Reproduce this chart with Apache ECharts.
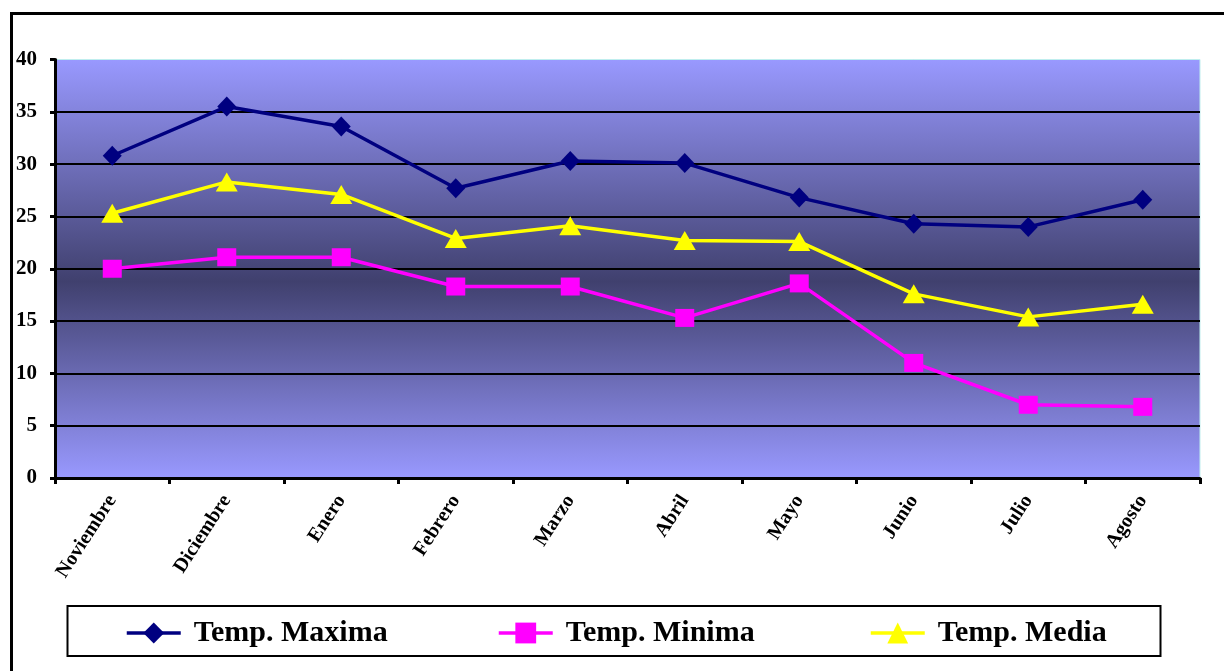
<!DOCTYPE html>
<html>
<head>
<meta charset="utf-8">
<script src="https://cdn.jsdelivr.net/npm/echarts@6/dist/echarts.min.js"></script>
<style>
  html, body { margin: 0; padding: 0; background: #ffffff; }
  #chart { width: 1224px; height: 671px; }
</style>
</head>
<body>
<div id="chart"></div>
<script>
// Monthly temperatures (°C)
const months = ['Noviembre', 'Diciembre', 'Enero', 'Febrero', 'Marzo', 'Abril', 'Mayo', 'Junio', 'Julio', 'Agosto'];
const tempMaxima = [30.8, 35.5, 33.6, 27.7, 30.3, 30.1, 26.8, 24.3, 24.0, 26.6];
const tempMinima = [20.0, 21.1, 21.1, 18.3, 18.3, 15.3, 18.6, 11.0, 7.0, 6.8];
const tempMedia  = [25.3, 28.3, 27.1, 22.9, 24.1, 22.7, 22.6, 17.6, 15.4, 16.6];
const seriesNames = ['Temp. Maxima', 'Temp. Minima', 'Temp. Media'];

const serif = '"Liberation Serif", "DejaVu Serif", serif';

const chart = echarts.init(document.getElementById('chart'), null, { renderer: 'canvas' });

function lineSeries(name, data, color, symbol, size) {
  return {
    name: name,
    type: 'line',
    data: data,
    symbol: symbol,
    symbolSize: size,
    lineStyle: { color: color, width: 3.5 },
    itemStyle: { color: color },
    emphasis: { disabled: true },
    animation: false,
    z: 3
  };
}

// one legend entry per series, each placed along the bottom box
function legendEntry(name, left) {
  return {
    data: [name],
    left: left,
    top: 618,
    padding: 0,
    itemWidth: 54,
    itemHeight: 26,
    selectedMode: false,
    lineStyle: { width: 3.5 },
    textStyle: {
      fontFamily: serif,
      fontWeight: 'bold',
      fontSize: 30,
      color: '#000000',
      padding: [0, 0, 0, 8]
    }
  };
}

chart.setOption({
  animation: false,
  backgroundColor: '#ffffff',
  grid: {
    left: 55,
    top: 59.5,
    right: 24,
    bottom: 193,
    show: true,
    borderColor: '#bfeeee',
    borderWidth: 1,
    backgroundColor: {
      type: 'linear', x: 0, y: 0, x2: 0, y2: 1,
      colorStops: [
        { offset: 0, color: '#9999ff' },
        { offset: 0.53, color: '#40406e' },
        { offset: 1, color: '#9999ff' }
      ]
    }
  },
  legend: [
    legendEntry(seriesNames[0], 125),
    legendEntry(seriesNames[1], 497),
    legendEntry(seriesNames[2], 869)
  ],
  xAxis: {
    type: 'category',
    data: months,
    boundaryGap: true,
    axisLine: { show: true, lineStyle: { color: '#000000', width: 3 } },
    axisTick: { show: true, alignWithLabel: false, length: 6, lineStyle: { color: '#000000', width: 3 } },
    axisLabel: {
      rotate: 57,
      margin: 19,
      interval: 0,
      fontFamily: serif,
      fontWeight: 'bold',
      fontSize: 20,
      color: '#000000'
    },
    splitLine: { show: false }
  },
  yAxis: {
    type: 'value',
    min: 0,
    max: 40,
    interval: 5,
    axisLine: { show: true, lineStyle: { color: '#000000', width: 3 } },
    axisTick: { show: true, length: 5, lineStyle: { color: '#000000', width: 3 } },
    axisLabel: {
      margin: 18,
      fontFamily: serif,
      fontWeight: 'bold',
      fontSize: 21,
      color: '#000000'
    },
    splitLine: {
      show: true,
      showMinLine: false,
      showMaxLine: false,
      lineStyle: { color: '#000000', width: 2 }
    }
  },
  series: [
    lineSeries(seriesNames[0], tempMaxima, '#000080', 'diamond', [19, 20]),
    lineSeries(seriesNames[1], tempMinima, '#ff00ff', 'rect', [19, 18]),
    lineSeries(seriesNames[2], tempMedia, '#ffff00', 'triangle', [22, 19])
  ],
  graphic: [
    {
      type: 'rect',
      silent: true,
      shape: { x: 11.5, y: 13.5, width: 1400, height: 900 },
      style: { fill: 'none', stroke: '#000000', lineWidth: 3 }
    },
    {
      type: 'rect',
      silent: true,
      shape: { x: 67.5, y: 606, width: 1093, height: 50 },
      style: { fill: 'none', stroke: '#000000', lineWidth: 2 }
    }
  ]
});
</script>
</body>
</html>
